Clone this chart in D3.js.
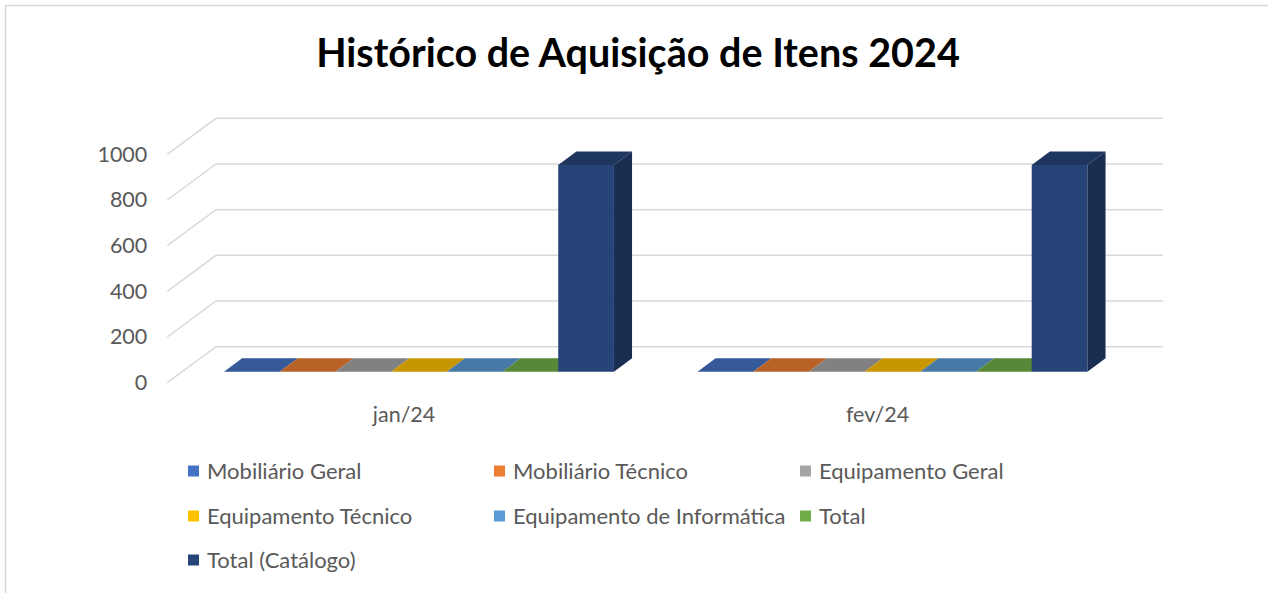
<!DOCTYPE html>
<html>
<head>
<meta charset="utf-8" />
<title>Histórico de Aquisição de Itens 2024</title>
<style>
html, body {
    margin: 0;
    padding: 0;
    background: #fff;
}
svg text {
    font-family: Lato, "Open Sans", sans-serif;
}
</style>
</head>
<body>
<div id="chart"></div>
<script src="https://cdnjs.cloudflare.com/ajax/libs/d3/7.8.5/d3.min.js"></script>
<script>
// dados
var categories = ["jan/24", "fev/24"]
var seriesNames = ["Mobiliário Geral", "Mobiliário Técnico", "Equipamento Geral",
    "Equipamento Técnico", "Equipamento de Informática", "Total", "Total (Catálogo)"]
var seriesColors = ["#4472C4", "#ED7D31", "#A5A5A5", "#FFC000", "#5B9BD5", "#70AD47", "#264478"]
var janValues = [0, 0, 0, 0, 0, 0, 905]
var fevValues = [0, 0, 0, 0, 0, 0, 905]
var yTicks = [0, 200, 400, 600, 800, 1000]

var W = 1268, H = 593
var svg = d3.select("#chart").append("svg")
    .attr("width", W)
    .attr("height", H)

// borda
svg.append("rect")
    .attr("x", 5.5).attr("y", 5.5)
    .attr("width", W + 20).attr("height", H + 20)
    .attr("fill", "#fff")
    .attr("stroke", "#d9d9d9")
    .attr("stroke-width", 1.5)

svg.append("text")
    .attr("x", 638).attr("y", 67)
    .attr("text-anchor", "middle")
    .attr("font-size", 39.5)
    .attr("font-weight", "bold")
    .attr("fill", "#000")
    .text("Histórico de Aquisição de Itens 2024")

// caixa 3D
var left = 167.3, right = 1114.3
var DX = 48.7, DY = 36
var depth0 = 0.306, depth1 = 0.678

var y = d3.scaleLinear().domain([0, 1000]).range([382.7, 154.3])
var x = d3.scaleBand().domain(categories).range([left, right])
var xs = d3.scaleBand().domain(seriesNames)
    .range([0, x.bandwidth()])
    .paddingOuter(0.75).paddingInner(0)

var grid = svg.append("g")
grid.selectAll("path")
    .data(yTicks)
    .enter()
    .append("path")
    .attr("d", function(d) {
        return "M" + left + "," + y(d) + "L" + (left + DX) + "," + (y(d) - DY) +
            "L" + (right + DX) + "," + (y(d) - DY)
    })
    .attr("fill", "none")
    .attr("stroke", "#d9d9d9")
    .attr("stroke-width", 1.5)

var yAxis = svg.append("g")
    .attr("transform", "translate(" + left + ",0)")
    .call(d3.axisLeft(y).tickValues(yTicks).tickFormat(d3.format("d")).tickSize(0).tickPadding(20))
yAxis.select(".domain").remove()
yAxis.selectAll("text")
    .attr("font-size", 21.5)
    .attr("fill", "#595959")
    .style("font-family", "Lato, sans-serif")

var xAxis = svg.append("g")
    .attr("transform", "translate(0," + y(0) + ")")
    .call(d3.axisBottom(x).tickSize(0).tickPadding(24))
xAxis.select(".domain").remove()
xAxis.selectAll("text")
    .attr("font-size", 21.5)
    .attr("fill", "#595959")
    .style("font-family", "Lato, sans-serif")

// barras
var rows = []
var allValues = [janValues, fevValues]
categories.forEach(function(c, ci) {
    seriesNames.forEach(function(s, si) {
        rows.push({cat: c, name: s, value: allValues[ci][si], color: seriesColors[si]})
    })
})

var fx = DX * depth0, fy = DY * depth0
var bdx = DX * (depth1 - depth0), bdy = DY * (depth1 - depth0)

function shade(col, k) {
    var c = d3.rgb(col)
    return d3.rgb(c.r * k, c.g * k, c.b * k).formatHex()
}

var bars = svg.append("g").selectAll("g")
    .data(rows)
    .enter()
    .append("g")

bars.each(function(d) {
    var g = d3.select(this)
    var x0 = x(d.cat) + xs(d.name) + fx
    var x1 = x0 + xs.bandwidth()
    var yb = y(0) - fy
    var yt = y(d.value) - fy
    // frente
    g.append("path")
        .attr("d", "M" + x0 + "," + yb + "L" + x1 + "," + yb + "L" + x1 + "," + yt + "L" + x0 + "," + yt + "Z")
        .attr("fill", d.color)
    // topo
    g.append("path")
        .attr("d", "M" + x0 + "," + yt + "L" + x1 + "," + yt + "L" + (x1 + bdx) + "," + (yt - bdy) +
            "L" + (x0 + bdx) + "," + (yt - bdy) + "Z")
        .attr("fill", shade(d.color, 0.78))
    // lado
    if (d.value > 0) {
        g.append("path")
            .attr("d", "M" + x1 + "," + yb + "L" + (x1 + bdx) + "," + (yb - bdy) + "L" + (x1 + bdx) + "," + (yt - bdy) +
                "L" + x1 + "," + yt + "Z")
            .attr("fill", shade(d.color, 0.68))
    }
})

// legenda
var legendCols = [188, 494, 800]
var legendRows = [471, 516, 560]
var legend = svg.append("g").selectAll("g")
    .data(seriesNames)
    .enter()
    .append("g")
    .attr("transform", function(d, i) {
        return "translate(" + legendCols[i % 3] + "," + legendRows[Math.floor(i / 3)] + ")"
    })
legend.append("rect")
    .attr("x", 0).attr("y", -5.5)
    .attr("width", 11).attr("height", 11)
    .attr("fill", function(d, i) { return seriesColors[i] })
legend.append("text")
    .attr("x", 19).attr("y", 0)
    .attr("dy", "0.35em")
    .attr("font-size", 22)
    .attr("fill", "#595959")
    .text(function(d) { return d })
</script>
</body>
</html>
